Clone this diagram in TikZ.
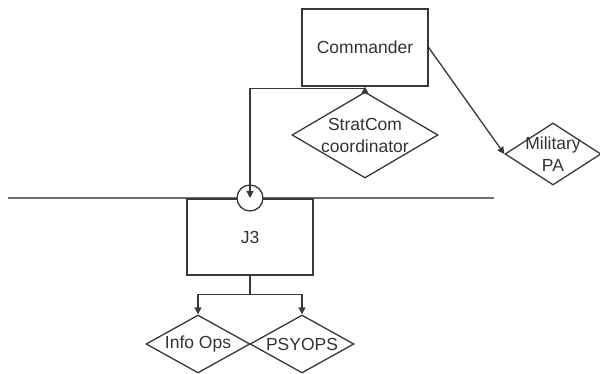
\documentclass[tikz,border=0pt]{standalone}
\usepackage{fontspec}
\setmainfont{Liberation Sans}
\usetikzlibrary{shapes.geometric,arrows.meta,calc}
\definecolor{ink}{HTML}{383838}
\definecolor{txt}{HTML}{333333}
\definecolor{rail}{HTML}{6E6E6E}
\begin{document}
\begin{tikzpicture}[x=1pt,y=-1pt,
  line width=1.3pt, draw=ink,
  every node/.style={text=txt, font=\fontsize{17.5}{22}\selectfont},
  box/.style={draw=ink, fill=white, rectangle, minimum width=126pt, inner sep=0pt},
  dia/.style={draw=ink, diamond, inner sep=0pt, shape aspect=1},
  lab/.style={align=center, inner sep=0pt},
  tip/.style={-{Triangle[length=7pt,width=7pt]}},
  ring/.style={circle, draw=ink, fill=white, minimum size=26pt, inner sep=0pt}]
\useasboundingbox (0,0) rectangle (600,374);

% separating rail
\coordinate (railL) at (8,198);
\coordinate (railR) at (494,198);
\draw[rail, line width=2pt] (railL) -- (railR);

% boxes
\node[box, minimum height=77pt] (cmd) at (365,47.5) {Commander};
\node[box, minimum height=76pt] (j3) at (250,237) {J3};

% diamonds (text set as centred labels so it may overflow the outline)
\node[dia, minimum width=146pt, minimum height=86pt,
      label={[lab]center:{StratCom\\coordinator}}] (strat) at (365,135) {};
\node[dia, minimum width=96pt, minimum height=62pt,
      label={[lab]center:{Military\\PA}}] (pa) at (553,154) {};
\node[dia, minimum width=104pt, minimum height=58pt,
      label={[lab]center:{Info Ops}}] (info) at (198,344) {};
\node[dia, minimum width=104pt, minimum height=58pt,
      label={[lab]center:{PSYOPS}}] (psy) at (302,344) {};

% junction on the rail
\node[ring] (circ) at (250,198) {};

% connectors
\draw[tip] (strat.north) -- (cmd.south);
\draw[tip] ($(cmd.south)+(0,2)$) -| (circ.center);
\draw[tip] ($(cmd.north east)!0.5!(cmd.south east)$) -- (pa.west);
\draw (j3.south) -- ++(0,19) coordinate (split);
\draw[tip] (split) -| (info.north);
\draw[tip] (split) -| (psy.north);
\end{tikzpicture}
\end{document}
